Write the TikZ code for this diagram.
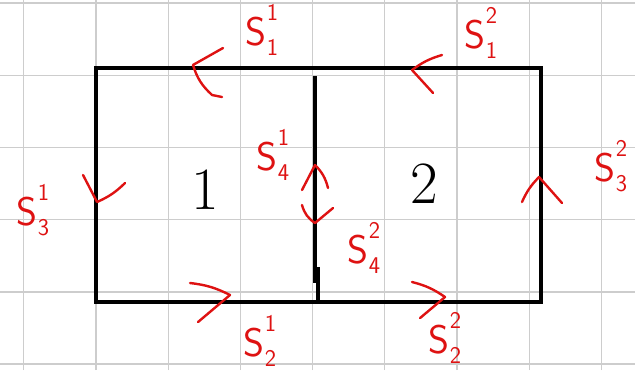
\documentclass[tikz,border=0pt]{standalone}
\definecolor{inkred}{RGB}{222,18,18}
\definecolor{gridgray}{RGB}{205,205,205}
% side label: S with stacked upper and lower index
\newcommand{\sidelab}[2]{S\rlap{\raisebox{0.62em}{\fontsize{24}{24}\selectfont #1}}\raisebox{-0.25em}{\fontsize{24}{24}\selectfont #2}}
\begin{document}
\begin{tikzpicture}[x=72.2pt,y=72.2pt,
    box/.style={line width=3.6pt,black},
    ink/.style={inkred,line width=2.4pt,line cap=round,line join=round},
    lab/.style={text=inkred,inner sep=0pt,font=\sffamily\fontsize{40}{42}\selectfont},
    region/.style={inner sep=0pt,font=\fontsize{60}{62}\selectfont}]
  \useasboundingbox (-1.330,-0.942) rectangle (7.465,4.183);
  % grid
  \foreach \gx in {-1,...,7}
    \draw[gridgray,line width=1.3pt] (\gx,-0.942) -- (\gx,4.183);
  \foreach \gy in {-0.86,0.14,1.14,2.14,3.14,4.14}
    \draw[gridgray,line width=1.3pt] (-1.330,\gy) -- (7.465,\gy);
  % regions
  \draw[box] (0,0) rectangle (6.163,3.241);
  \draw[box] (3.033,3.13) -- (3.033,0.263);
  \draw[box] (3.075,0.485) -- (3.075,0);
  \node (r1) at (1.510,1.551) [region] {1};
  \node (r2) at (4.543,1.634) [region] {2};
  % orientation marks
  \draw[ink] (1.759,3.518) -- (1.343,3.283) to[bend right=15] (1.607,2.867) -- (1.745,2.839);
  \draw[ink] (4.792,3.421) to[bend right=10] (4.377,3.213) -- (4.668,2.895);
  \draw[ink] (-0.180,1.759) -- (0.014,1.385) to[bend right=10] (0.402,1.648);
  \draw[ink] (1.302,0.263) to[bend left=10] (1.856,0.097) -- (1.413,-0.277);
  \draw[ink] (4.377,0.277) to[bend left=10] (4.834,0.069) -- (4.488,-0.222);
  \draw[ink] (5.900,1.385) to[bend left=10] (6.136,1.731) -- (6.454,1.371);
  \draw[ink] (2.853,1.551) -- (3.033,1.898) to[bend left=15] (3.213,1.579);
  \draw[ink] (2.853,1.343) to[bend right=20] (3.033,1.094) -- (3.283,1.302);
  % side labels
  \node (s11) at (2.299,3.767) [lab] {\sidelab{1}{1}};
  \node (s12) at (5.332,3.726) [lab] {\sidelab{2}{1}};
  \node (s31) at (-0.873,1.274) [lab] {\sidelab{1}{3}};
  \node (s21) at (2.271,-0.54) [lab] {\sidelab{1}{2}};
  \node (s22) at (4.834,-0.50) [lab] {\sidelab{2}{2}};
  \node (s32) at (7.133,1.884) [lab] {\sidelab{2}{3}};
  \node (s41) at (2.452,2.036) [lab] {\sidelab{1}{4}};
  \node (s42) at (3.712,0.748) [lab] {\sidelab{2}{4}};
\end{tikzpicture}
\end{document}
